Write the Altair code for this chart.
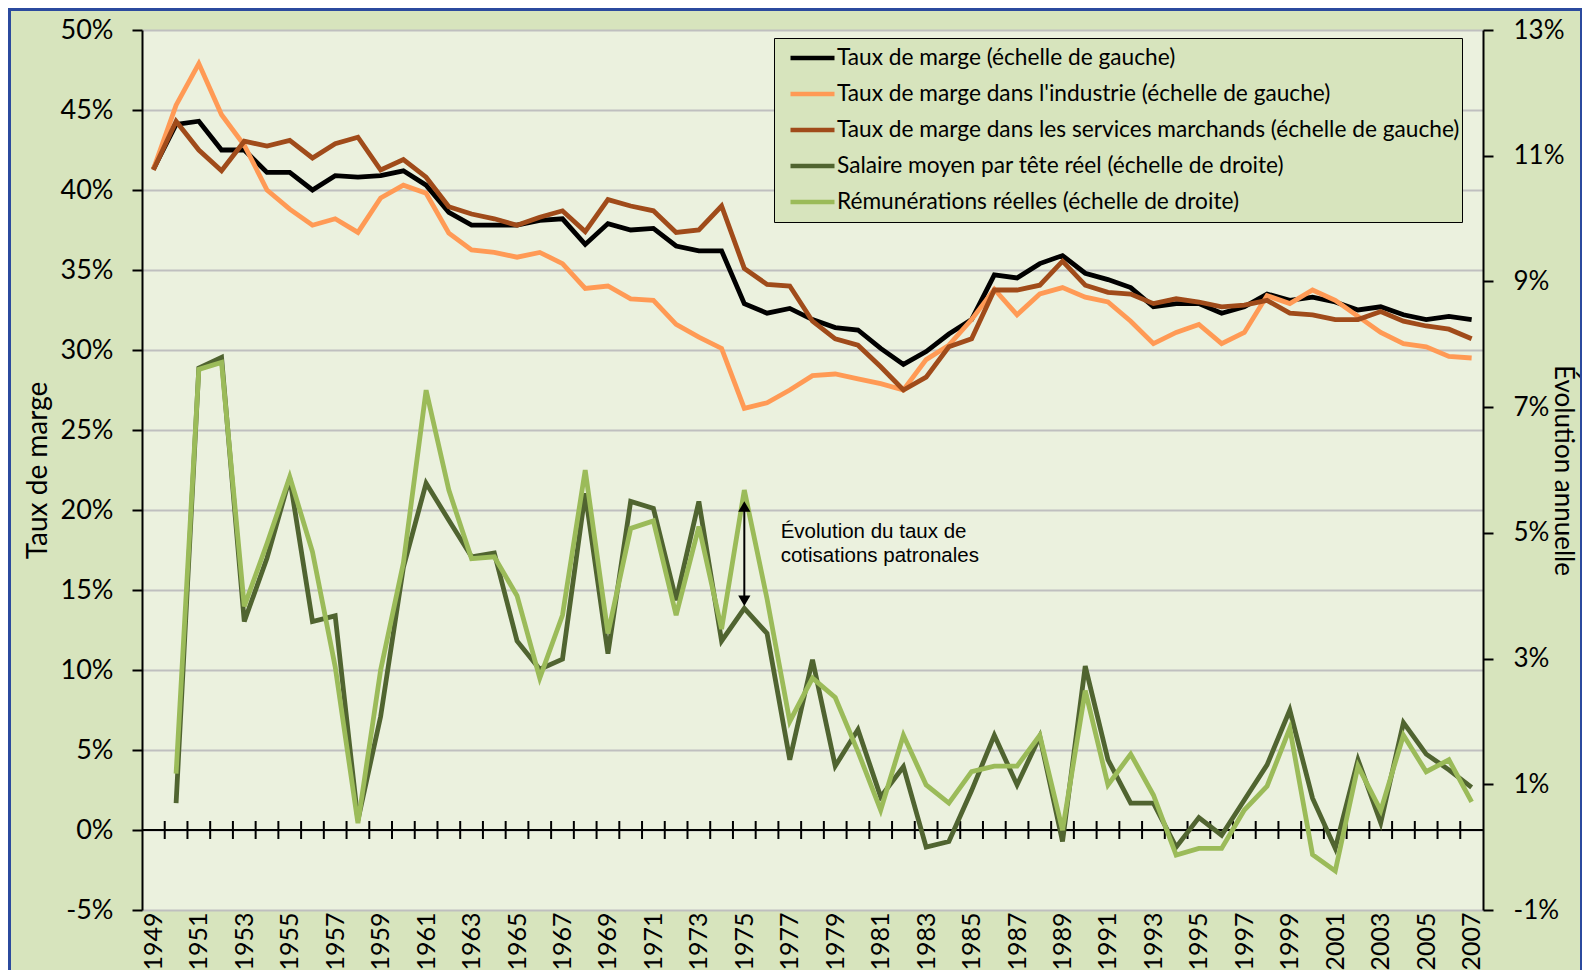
import altair as alt
import pandas as pd

# ---------------- data ----------------
years = list(range(1949, 2008))
taux_marge = [41.3, 44.1, 44.3, 42.5, 42.5, 41.1, 41.1, 40.0, 40.9, 40.8,
              40.9, 41.2, 40.3, 38.6, 37.8, 37.8, 37.8, 38.1, 38.2, 36.6,
              37.9, 37.5, 37.6, 36.5, 36.2, 36.2, 32.9, 32.3, 32.6, 31.9,
              31.4, 31.25, 30.1, 29.1, 29.9, 31.0, 31.9, 34.7, 34.5, 35.4,
              35.9, 34.8, 34.4, 33.9, 32.7, 32.9, 32.9, 32.3, 32.7, 33.5,
              33.1, 33.3, 33.0, 32.5, 32.7, 32.2, 31.9, 32.1, 31.9]
taux_industrie = [41.3, 45.3, 47.9, 44.7, 42.8, 40.0, 38.8, 37.8, 38.2, 37.35,
                  39.5, 40.3, 39.8, 37.3, 36.25, 36.1, 35.8, 36.1, 35.4, 33.85,
                  34.0, 33.2, 33.1, 31.6, 30.8, 30.1, 26.35, 26.7, 27.5, 28.4,
                  28.5, 28.2, 27.9, 27.5, 29.4, 30.3, 31.9, 33.8, 32.2, 33.5,
                  33.9, 33.3, 33.0, 31.8, 30.4, 31.1, 31.6, 30.4, 31.1, 33.4,
                  32.9, 33.75, 33.1, 32.1, 31.1, 30.4, 30.2, 29.6, 29.5]
taux_services = [41.25, 44.3, 42.5, 41.2, 43.05, 42.75, 43.1, 42.0, 42.9, 43.3,
                 41.25, 41.9, 40.8, 38.95, 38.5, 38.2, 37.8, 38.3, 38.7, 37.4,
                 39.4, 39.0, 38.7, 37.35, 37.5, 39.0, 35.1, 34.1, 34.0, 31.8,
                 30.7, 30.3, 28.95, 27.5, 28.3, 30.2, 30.7, 33.75, 33.75, 34.05,
                 35.55, 34.05, 33.6, 33.5, 32.9, 33.2, 33.0, 32.7, 32.8, 33.1,
                 32.3, 32.2, 31.9, 31.9, 32.4, 31.8, 31.5, 31.3, 30.7]

years_r = list(range(1950, 2008))
salaire = [0.70, 7.62, 7.79, 3.59, 4.6, 5.87, 3.59, 3.68, 0.43, 2.08,
           4.45, 5.79, 5.20, 4.62, 4.68, 3.28, 2.83, 2.99, 5.63, 3.08,
           5.50, 5.39, 3.93, 5.50, 3.28, 3.80, 3.40, 1.39, 2.98, 1.29,
           1.87, 0.80, 1.28, 0.0, 0.09, 0.90, 1.78, 0.99, 1.76, 0.09,
           2.88, 1.39, 0.70, 0.70, 0.0, 0.47, 0.19, 0.75, 1.31, 2.18,
           0.78, -0.02, 1.39, 0.39, 1.98, 1.48, 1.23, 0.95]
remunerations = [1.17, 7.60, 7.71, 3.83, 4.83, 5.89, 4.70, 2.87, 0.38, 2.82,
                 4.52, 7.27, 5.68, 4.59, 4.62, 4.0, 2.69, 3.69, 6.0, 3.40,
                 5.07, 5.19, 3.69, 5.10, 3.47, 5.68, 3.95, 2.0, 2.69, 2.38,
                 1.52, 0.59, 1.78, 0.99, 0.70, 1.20, 1.29, 1.29, 1.78, 0.27,
                 2.49, 0.99, 1.48, 0.83, -0.125, -0.02, -0.02, 0.59, 0.97, 1.89,
                 -0.12, -0.38, 1.29, 0.58, 1.78, 1.20, 1.39, 0.72]

names = ["Taux de marge (échelle de gauche)",
         "Taux de marge dans l'industrie (échelle de gauche)",
         "Taux de marge dans les services marchands (échelle de gauche)",
         "Salaire moyen par tête réel (échelle de droite)",
         "Rémunérations réelles (échelle de droite)"]
colors = ["#000000", "#FF9A55", "#A04B1A", "#506430", "#9BBB59"]

left_ticks = list(range(-5, 55, 5))
right_ticks = list(range(-1, 15, 2))
year_labels = years[::2]
sep_ticks = [y + 0.5 for y in years[:-1]]

annotation_lines = ["Évolution du taux de", "cotisations patronales"]
annotation_pos = {"x": [1976.6], "y": [18.65]}
arrow_year = 1975
arrow_top, arrow_bottom = 5.42, 3.92

# ---------------- layout ----------------
W, H = 1341, 880
PAD_L, PAD_T, PAD_R, PAD_B = 134, 22, 99, 60
FONT = "Lato"

xscale = alt.Scale(domain=[1948.5, 2007.5], nice=False, zero=False)
lscale = alt.Scale(domain=[-5, 50], nice=False, zero=False)
rscale = alt.Scale(domain=[-1, 13], nice=False, zero=False)
cscale = alt.Scale(domain=names, range=colors)

xaxis = alt.Axis(values=year_labels, format="d", labelAngle=-90, labelFont=FONT,
                 labelFontSize=25, labelColor="black", domain=False, ticks=False,
                 grid=False, labelPadding=2, title=None, labelOverlap=False,
                 labelFlush=False)
laxis = alt.Axis(values=left_ticks, labelExpr="datum.value + '%'", grid=True,
                 gridColor="#BFBFBF", gridWidth=2, domainColor="black", domainWidth=2,
                 tickColor="black", tickWidth=2, tickSize=10, labelFont=FONT,
                 labelFontSize=27, labelColor="black", labelPadding=19,
                 labelOverlap=False, title="Taux de marge", titleFont=FONT,
                 titleFontSize=28, titleFontWeight="normal", titleColor="black",
                 titleAngle=-90, titleX=-96, titleY=H / 2, titleAlign="center",
                 titleBaseline="alphabetic")
raxis = alt.Axis(orient="right", values=right_ticks, labelExpr="datum.value + '%'",
                 grid=False, domainColor="black", domainWidth=2, tickColor="black",
                 tickWidth=2, tickSize=10, labelFont=FONT, labelFontSize=26,
                 labelColor="black", labelPadding=20, labelOverlap=False,
                 title="Évolution annuelle", titleFont=FONT, titleFontSize=26,
                 titleFontWeight="normal", titleColor="black", titleAngle=90,
                 titleX=71, titleY=H / 2, titleAlign="center",
                 titleBaseline="alphabetic")
legend = alt.Legend(title=None, orient="none", legendX=632, legendY=8,
                    fillColor="#D7E4BD", strokeColor="black", padding=2,
                    labelFont=FONT, labelFontSize=22.7, labelColor="black",
                    labelLimit=1000,
                    symbolType="stroke", symbolSize=1936,
                    symbolStrokeWidth=4.5, clipHeight=36, rowPadding=0,
                    symbolOffset=12, labelOffset=0, zindex=1)


def series_line(xs, vals, name, scale, axis):
    df = pd.DataFrame({"year": xs, "value": vals, "series": name})
    return alt.Chart(df).mark_line(strokeWidth=4.8).encode(
        x=alt.X("year:Q", scale=xscale, axis=xaxis),
        y=alt.Y("value:Q", scale=scale, axis=axis),
        color=alt.Color("series:N", scale=cscale, legend=legend),
    )


# frame (decoration)
frame = alt.Chart(pd.DataFrame({"a": [0]})).mark_rect(
    fill="transparent", stroke="#2B4A9E", strokeWidth=12
).encode(x=alt.value(-PAD_L - 3), x2=alt.value(W + PAD_R + 4),
         y=alt.value(-PAD_T - 3), y2=alt.value(1100))

zero_line = alt.Chart(pd.DataFrame({"x": [1948.5], "x2": [2007.5], "y": [0]})).mark_rule(
    color="black", strokeWidth=2
).encode(x=alt.X("x:Q", scale=xscale, axis=xaxis), x2="x2:Q",
         y=alt.Y("y:Q", scale=lscale, axis=laxis))

zero_ticks = alt.Chart(pd.DataFrame({"x": sep_ticks, "y": [0] * len(sep_ticks)})).mark_tick(
    orient="vertical", color="black", thickness=2, size=18, opacity=1
).encode(x=alt.X("x:Q", scale=xscale, axis=xaxis),
         y=alt.Y("y:Q", scale=lscale, axis=laxis))

annotation = alt.Chart(pd.DataFrame(annotation_pos)).mark_text(
    text=annotation_lines, align="left", baseline="middle", font="Liberation Sans",
    fontSize=20.5, lineHeight=24.5, color="black"
).encode(x=alt.X("x:Q", scale=xscale, axis=xaxis),
         y=alt.Y("y:Q", scale=lscale, axis=laxis))

left = alt.layer(
    frame,
    zero_line,
    zero_ticks,
    series_line(years, taux_marge, names[0], lscale, laxis),
    series_line(years, taux_industrie, names[1], lscale, laxis),
    series_line(years, taux_services, names[2], lscale, laxis),
    annotation,
)

arrow_df = pd.DataFrame({"x": [arrow_year], "y": [arrow_top], "y2": [arrow_bottom]})
arrow_rule = alt.Chart(arrow_df).mark_rule(color="black", strokeWidth=2).encode(
    x=alt.X("x:Q", scale=xscale, axis=xaxis),
    y=alt.Y("y:Q", scale=rscale, axis=raxis), y2="y2:Q")
head_up = alt.Chart(arrow_df).mark_point(shape="triangle-up", filled=True, color="black",
                                         size=150, opacity=1).encode(
    x=alt.X("x:Q", scale=xscale, axis=xaxis),
    y=alt.Y("y:Q", scale=rscale, axis=raxis))
head_down = alt.Chart(arrow_df).mark_point(shape="triangle-down", filled=True, color="black",
                                           size=150, opacity=1).encode(
    x=alt.X("x:Q", scale=xscale, axis=xaxis),
    y=alt.Y("y2:Q", scale=rscale, axis=raxis))

right = alt.layer(
    series_line(years_r, salaire, names[3], rscale, raxis),
    series_line(years_r, remunerations, names[4], rscale, raxis),
    arrow_rule, head_up, head_down,
)

chart = alt.layer(left, right).resolve_scale(y="independent").properties(
    width=W, height=H,
    autosize=alt.AutoSizeParams(type="none"),
    padding={"left": PAD_L, "top": PAD_T, "right": PAD_R, "bottom": PAD_B},
    background="#D7E4BD",
).configure_view(fill="#EBF1DE", strokeWidth=0)

chart.save("out.html", embed_options={"renderer": "svg", "actions": False})
